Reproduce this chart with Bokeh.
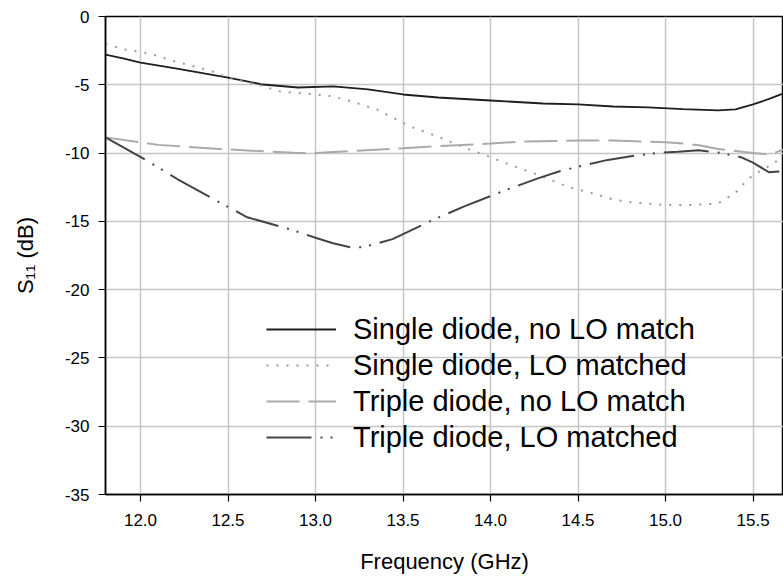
from bokeh.plotting import figure
from bokeh.models import Legend, LegendItem, FixedTicker, PrintfTickFormatter
from bokeh.embed import file_html
from bokeh.resources import INLINE

# Single diode, no LO match
f_s_no = [11.8, 11.9, 12.0, 12.2, 12.5, 12.7, 12.9, 13.1, 13.3, 13.5, 13.7, 14.0, 14.3, 14.5, 14.7, 14.9, 15.1, 15.3, 15.4, 15.5, 15.6, 15.7]
s_no = [-2.8, -3.07, -3.37, -3.8, -4.47, -4.98, -5.2, -5.12, -5.34, -5.71, -5.93, -6.15, -6.37, -6.44, -6.59, -6.66, -6.78, -6.88, -6.8, -6.44, -6.0, -5.5]

# Single diode, LO matched
f_s_lo = [11.8, 11.9, 12.05, 12.2, 12.4, 12.5, 12.7, 12.8, 13.0, 13.1, 13.2, 13.35, 13.45, 13.55, 13.7, 13.85, 14.0, 14.1, 14.25, 14.35, 14.45, 14.6, 14.7, 14.8, 15.0, 15.15, 15.3, 15.35, 15.4, 15.45, 15.5, 15.6, 15.7]
s_lo = [-2.0, -2.4, -2.7, -3.3, -3.97, -4.47, -5.1, -5.5, -5.7, -5.85, -6.2, -6.8, -7.45, -8.1, -8.8, -9.6, -10.3, -10.8, -11.5, -12.0, -12.5, -13.0, -13.4, -13.6, -13.8, -13.8, -13.7, -13.3, -12.9, -12.2, -11.6, -10.9, -10.0]

# Triple diode, no LO match
f_t_no = [11.8, 12.1, 12.45, 12.9, 13.0, 13.5, 13.7, 14.0, 14.2, 14.5, 14.7, 15.0, 15.1, 15.2, 15.3, 15.5, 15.6, 15.7]
t_no = [-8.85, -9.4, -9.7, -10.0, -10.0, -9.65, -9.5, -9.3, -9.15, -9.08, -9.08, -9.2, -9.3, -9.45, -9.7, -10.0, -10.1, -9.6]

# Triple diode, LO matched
f_t_lo = [11.8, 12.03, 12.21, 12.45, 12.61, 12.86, 13.0, 13.1, 13.2, 13.27, 13.44, 13.67, 13.85, 14.09, 14.27, 14.39, 14.5, 14.67, 14.82, 14.97, 15.07, 15.19, 15.3, 15.43, 15.5, 15.59, 15.7]
t_lo = [-8.85, -10.5, -11.9, -13.6, -14.7, -15.6, -16.2, -16.6, -16.9, -16.9, -16.3, -14.9, -13.9, -12.7, -11.85, -11.35, -11.0, -10.5, -10.2, -9.97, -9.9, -9.8, -9.95, -10.3, -10.7, -11.4, -11.3]

x_ticks = [12.0, 12.5, 13.0, 13.5, 14.0, 14.5, 15.0, 15.5]
y_ticks = [0, -5, -10, -15, -20, -25, -30, -35]
labels = ["Single diode, no LO match", "Single diode, LO matched",
          "Triple diode, no LO match", "Triple diode, LO matched"]

FONT = "Liberation Sans"

p = figure(width=783, height=578, output_backend="svg", toolbar_location=None,
           x_range=(11.8, 15.674), y_range=(-35, 0),
           min_border_left=105, min_border_top=16, min_border_right=0, min_border_bottom=84)
p.background_fill_color = "white"
p.border_fill_color = "white"
p.outline_line_color = "black"
p.outline_line_width = 1.5

p.xgrid.grid_line_color = "#c6c6c6"
p.ygrid.grid_line_color = "#c6c6c6"
p.xgrid.grid_line_width = 1.5
p.ygrid.grid_line_width = 1.5

p.xaxis.ticker = FixedTicker(ticks=x_ticks)
p.yaxis.ticker = FixedTicker(ticks=y_ticks)
p.xaxis.formatter = PrintfTickFormatter(format="%.1f")
p.yaxis.formatter = PrintfTickFormatter(format="%d")
for ax in (p.xaxis, p.yaxis):
    ax.axis_line_color = "black"
    ax.axis_line_width = 1.5
    ax.major_tick_line_color = "black"
    ax.major_tick_line_width = 1.2
    ax.major_tick_out = 7
    ax.major_tick_in = 0
    ax.minor_tick_line_color = None
    ax.major_label_text_font = FONT
    ax.major_label_text_font_size = "17px"
    ax.major_label_text_color = "black"
    ax.axis_label_text_font = FONT
    ax.axis_label_text_font_size = "22px"
    ax.axis_label_text_font_style = "normal"
    ax.axis_label_text_color = "black"

p.xaxis.axis_label = "Frequency (GHz)"
p.yaxis.axis_label = "S\u2081\u2081 (dB)"
p.xaxis.major_label_standoff = 12
p.yaxis.major_label_standoff = 9
p.xaxis.axis_label_standoff = 20
p.yaxis.axis_label_standoff = 24

r1 = p.line(f_s_no, s_no, line_color="#1e1e1e", line_width=1.8)
r2 = p.line(f_s_lo, s_lo, line_color="#999999", line_width=2, line_dash="2 8")
r3 = p.line(f_t_no, t_no, line_color="#aaaaaa", line_width=2, line_dash="33 9")
r4 = p.line(f_t_lo, t_lo, line_color="#444444", line_width=2, line_dash="45 9 2 8 2 9")

legend = Legend(items=[LegendItem(label=labels[0], renderers=[r1]),
                       LegendItem(label=labels[1], renderers=[r2]),
                       LegendItem(label=labels[2], renderers=[r3]),
                       LegendItem(label=labels[3], renderers=[r4])],
                location=(161, 39))
legend.background_fill_alpha = 0
legend.border_line_color = None
legend.padding = 0
legend.margin = 0
legend.spacing = 0
legend.glyph_width = 70
legend.glyph_height = 36
legend.label_height = 36
legend.label_standoff = 17
legend.label_text_font = FONT
legend.label_text_font_size = "29px"
legend.label_text_color = "black"
p.add_layout(legend)

open("out.html", "w").write(file_html(p, INLINE))
